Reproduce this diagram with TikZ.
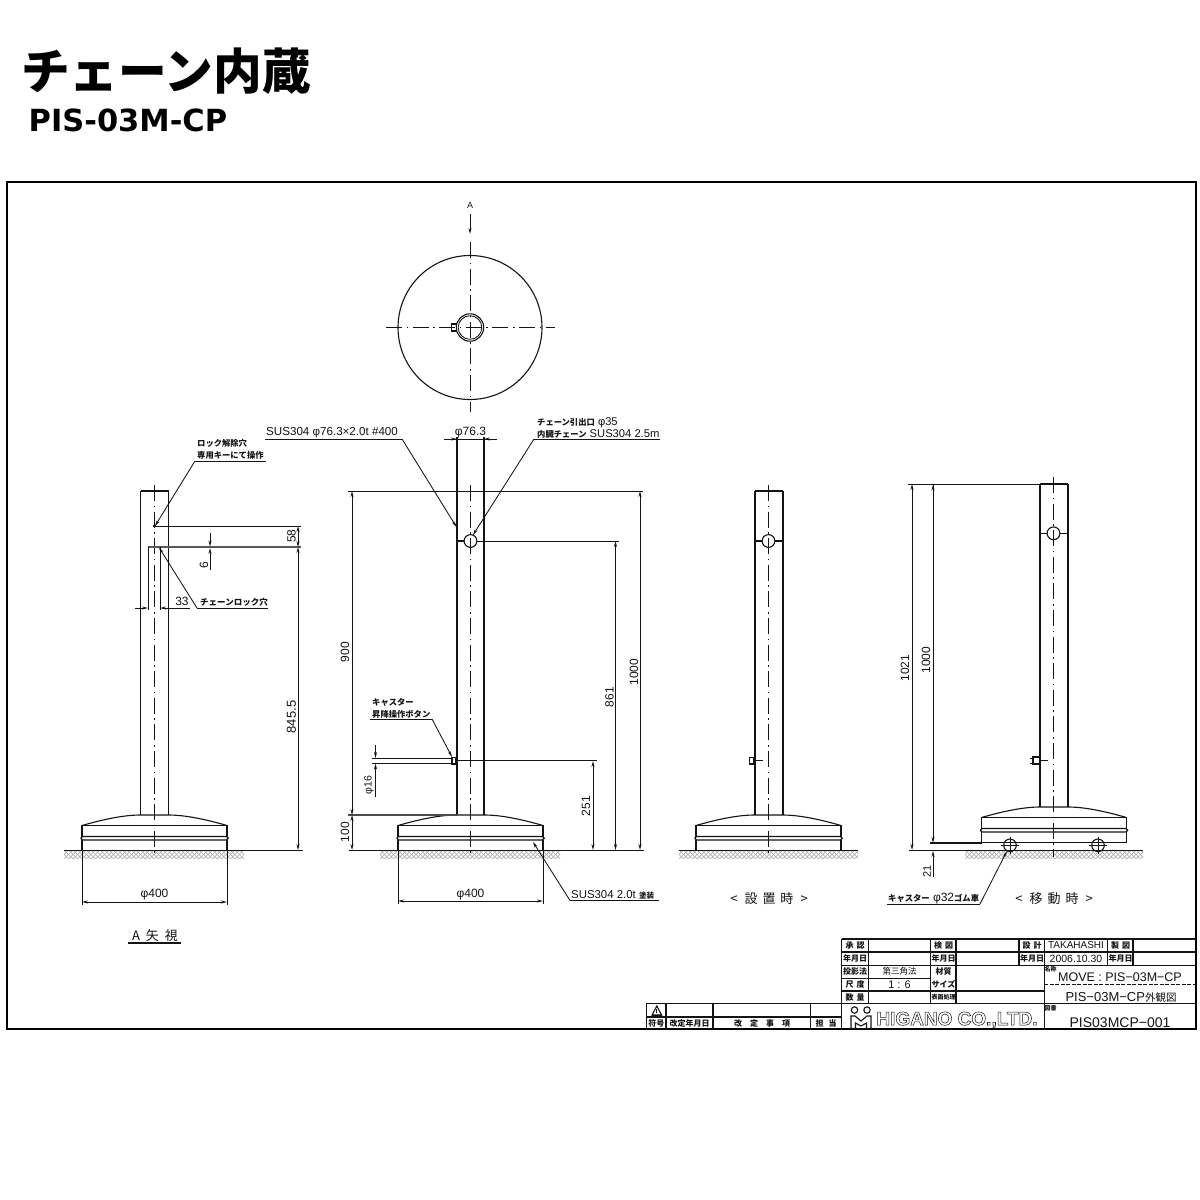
\documentclass[tikz,border=0pt]{standalone}
\usepackage{fontspec}
\setmainfont{Liberation Sans}
\newfontfamily\cjk{Noto Sans CJK JP}
\newfontfamily\dejab{DejaVu Sans}
\usetikzlibrary{arrows.meta}
\definecolor{ink}{gray}{0.08}
\tikzset{
  ln/.style={draw=ink,line width=1.1pt},
  thin ln/.style={draw=ink,line width=0.85pt},
  dimline/.style={draw=ink,line width=0.85pt,{Stealth[length=6pt,width=3pt]}-{Stealth[length=6pt,width=3pt]}},
  arr/.style={draw=ink,line width=0.85pt,-{Stealth[length=6pt,width=3pt]}},
  cl/.style={draw=ink,line width=0.9pt,dash pattern=on 16pt off 4.5pt on 1.6pt off 4.5pt},
  hatchln/.style={draw=black!35,line width=0.4pt},
  txt/.style={inner sep=0pt,text=ink,font=\fontsize{12}{13}\selectfont},
  jp/.style={inner sep=0pt,text=ink,font=\fontsize{8.3}{9}\selectfont\cjk\bfseries},
  lbl/.style={inner sep=0pt,text=ink,font=\fontsize{8}{9}\selectfont\cjk\bfseries},
  big/.style={inner sep=0pt,text=ink,font=\fontsize{13}{14}\selectfont\cjk},
  cell/.style={draw=ink,line width=1.1pt},
}
\newcommand{\sj}[1]{{\cjk\bfseries\fontsize{8.3}{9}\selectfont #1}}
\newcommand{\standbase}[2]{%
  \begin{scope}[shift={(#1,#2)}]
    \draw[ln] (-72.5,10.5) .. controls (-50,4) and (-30,0) .. (-14,0) -- (14,0) .. controls (30,0) and (50,4) .. (72.5,10.5);
    \draw[ln] (-72.5,21.5) -- (-72.5,10.5) -- (72.5,10.5) -- (72.5,21.5);
    \draw[ln,rounded corners=1.7pt] (-73.7,21.5) rectangle (73.7,25);
    \draw[ln] (-72.5,25) -- (-72.5,35.7) -- (72.5,35.7) -- (72.5,25);
  \end{scope}}
\newcommand{\gnd}[4]{% line from, line to, hatch from, hatch to
  \begin{scope}
    \clip (#3,851.2) rectangle (#4,858.5);
    \foreach \d in {0,4.5,...,200} {
      \draw[hatchln] ({#3+\d-9},859) -- ++(9,-9);
      \draw[hatchln] ({#3+\d-9},850) -- ++(9,9);
    }
  \end{scope}
  \draw[ln] (#1,850.5) -- (#2,850.5);}
\newcommand{\hole}[2]{%
  \draw[ln] (#1,#2) circle[radius=6.4pt];
  \draw[ln] ({#1-14},#2) -- ({#1-6.4},#2) ({#1+6.4},#2) -- ({#1+14},#2);}
\begin{document}
\begin{tikzpicture}[x=1pt,y=-1pt]
\useasboundingbox[fill=white] (0,0) rectangle (1200,1200);
% titles
\node[anchor=west,inner sep=0pt,font=\fontsize{48.7}{50}\selectfont\cjk\bfseries] (title) at (21,71) {チェーン内蔵};
\node[anchor=west,inner sep=0pt,font=\fontsize{30.5}{32}\selectfont\dejab\bfseries] (sub) at (28.5,120) {PIS-03M-CP};
% frame
\draw[draw=black,line width=2pt] (7,182) rectangle (1196,1029);

% top view
\draw[ln] (470,327.5) circle[radius=72pt];
\draw[ln] (470,327.5) circle[radius=13.7pt];
\draw[thin ln] (470,327.5) circle[radius=11.8pt];
\draw[ln] (451.5,324) rectangle (456.5,331);
\draw[cl] (386,327.5) -- (555,327.5);
\draw[cl] (470,242) -- (470,412);
\draw[arr] (470,214) -- (470,234);
\node[txt,font=\fontsize{9}{10}\selectfont] (lA) at (470,205) {A};

% ---- view 1: A view
\draw[ln] (140.5,491) -- (168.5,491);
\draw[ln] (140.5,491) -- (140.5,815);
\draw[ln] (168.5,491) -- (168.5,815);
\standbase{154.5}{815}
\gnd{64}{303}{64}{244}
\draw[cl] (154.5,485) -- (154.5,857);
\draw[thin ln] (155,526) -- (301,526);
\draw[draw=black!65,line width=1.5pt] (148,547) -- (301,547);
\draw[thin ln] (148,547) -- (148,610);
\draw[thin ln] (160,547) -- (160,610);
\draw[ln,fill=ink] (154.5,526) circle[radius=1pt];
\draw[arr] (135,608) -- (148,608);
\draw[arr] (190,608) -- (160,608);
\node[txt] (d33) at (182,601.5) {33};
\draw[thin ln] (197,608) -- (268,608);
\draw[arr] (197,608) -- (159,547.5);
\node[jp,anchor=west,font=\fontsize{8.5}{9}\selectfont\cjk\bfseries] (t1) at (200,602) {チェーンロック穴};
\draw[thin ln] (195,461) -- (266,461);
\draw[arr] (195,461) -- (155,526);
\node[jp,anchor=west] (t2) at (197,443) {ロック解除穴};
\node[jp,anchor=west] (t3) at (197,455) {専用キーにて操作};
\draw[dimline] (298,526) -- (298,547);
\draw[dimline] (298,547) -- (298,850);
\node[txt,rotate=90] (d58) at (291.5,536) {58};
\node[txt,rotate=90,font=\fontsize{13}{14}\selectfont] (d8455) at (291.5,717) {845.5};
\draw[arr] (210,533) -- (210,546.5);
\draw[arr] (210,570) -- (210,548);
\node[txt,rotate=90] (d6) at (204,565) {6};
\draw[thin ln] (82,851) -- (82,905);
\draw[thin ln] (227,851) -- (227,905);
\draw[dimline] (82,902) -- (227,902);
\node[txt] (d400a) at (154.5,895) {φ400};
\node[big,anchor=center] (aview) at (155,935.5) {\fontsize{13}{14}\selectfont A\hspace{6pt}矢\hspace{6pt}視};
\draw[ln] (128,943) -- (181,943);

% ---- view 2
\draw[ln] (457,437) -- (457,815);
\draw[ln] (484,437) -- (484,815);
\standbase{470.5}{815}
\gnd{349}{644}{380}{560}
\draw[cl] (470.5,485) -- (470.5,857);
\draw[thin ln] (348,491) -- (643,491);
\draw[draw=black!70,line width=1.4pt] (348,815) -- (457,815);
\draw[ln] (470.5,541) circle[radius=6.4pt];
\draw[ln] (456,541) -- (464,541);
\draw[thin ln] (477,541) -- (619,541);
\draw[thin ln] (444,439) -- (497,439);
\draw[arr] (444,439) -- (457,439);
\draw[arr] (497,439) -- (484,439);
\node[txt] (d763) at (470.5,432.5) {φ76.3};
\draw[thin ln] (265,439) -- (402,439);
\draw[arr] (402,439) -- (456.5,527);
\node[txt,anchor=west,font=\fontsize{11.6}{13}\selectfont] (t4) at (266,433) {SUS304 φ76.3×2.0t \#400};
\draw[thin ln] (534,439) -- (660,439);
\draw[arr] (534,439) -- (473,535);
\node[anchor=west,inner sep=0pt,text=ink,font=\fontsize{11.2}{12}\selectfont] (t5) at (537,423) {\sj{チェーン引出口} φ35};
\node[anchor=west,inner sep=0pt,text=ink,font=\fontsize{11.2}{12}\selectfont] (t6) at (537,434) {\sj{内臓チェーン} SUS304 2.5m};
\draw[dimline] (352,491) -- (352,815);
\draw[dimline] (352,815) -- (352,850);
\draw[dimline] (615.5,541) -- (615.5,850);
\draw[dimline] (640,491) -- (640,850);
\node[txt,rotate=90] (d900) at (345,652) {900};
\node[txt,rotate=90] (d100) at (345,832) {100};
\node[txt,rotate=90] (d861) at (609.5,697) {861};
\node[txt,rotate=90] (d1000) at (634,672) {1000};
% button
\draw[ln] (452,757.5) rectangle (456,764);
\draw[thin ln] (372,758) -- (452,758);
\draw[thin ln] (372,763.5) -- (452,763.5);
\draw[thin ln] (456,760.7) -- (597,760.7);
\draw[arr] (375.5,745) -- (375.5,758);
\draw[arr] (375.5,797) -- (375.5,763.5);
\node[txt,rotate=90,font=\fontsize{10.5}{12}\selectfont] (d16) at (369,785) {φ16};
\draw[dimline] (593,761) -- (593,850);
\node[txt,rotate=90] (d251) at (586,806) {251};
\draw[thin ln] (370,719) -- (432,719);
\draw[arr] (432,719) -- (452,757);
\node[jp,anchor=west] (t7) at (372,702) {キャスター};
\node[jp,anchor=west] (t8) at (372,714) {昇降操作ボタン};
\draw[thin ln] (570,900.5) -- (659,900.5);
\draw[arr] (570,900.5) -- (533,842);
\node[anchor=west,inner sep=0pt,text=ink,font=\fontsize{11.4}{12}\selectfont] (t9) at (571,895) {SUS304 2.0t {\cjk\bfseries\fontsize{7.5}{9}\selectfont 塗装}};
\draw[thin ln] (398,851) -- (398,904);
\draw[thin ln] (543,851) -- (543,904);
\draw[dimline] (398,901) -- (543,901);
\node[txt] (d400b) at (470.5,895) {φ400};

% ---- view 3
\draw[ln] (755,491) -- (783,491);
\draw[ln] (755,491) -- (755,815);
\draw[ln] (783,491) -- (783,815);
\standbase{768.5}{815}
\gnd{679}{858}{679}{858}
\draw[cl] (768.5,485) -- (768.5,857);
\hole{768.5}{541}
\draw[ln] (749.5,757.5) rectangle (755,764);
\draw[thin ln] (753,757.5) -- (753,764);
\draw[thin ln] (755,760.7) -- (763,760.7);
\node[big,anchor=center] (t10) at (769,899) {<\hspace{7pt}設\hspace{5pt}置\hspace{5pt}時\hspace{7pt}>};

% ---- view 4
\draw[ln] (1040,484) -- (1068,484);
\draw[ln] (1040,484) -- (1040,807);
\draw[ln] (1068,484) -- (1068,807);
\draw[thin ln] (908,484) -- (1040,484);
\standbase{1054}{807}
\gnd{909}{1143}{965}{1143}
\draw[cl] (1053.5,477) -- (1053.5,857);
\hole{1053.5}{533.3}
\draw[ln] (1033,757) rectangle (1040,764);
\draw[thin ln] (1030,758) -- (1033,758);
\draw[thin ln] (1030,763) -- (1033,763);
\draw[thin ln] (1040,760.7) -- (1048,760.7);
\draw[ln] (930,843) -- (982,843);
\draw[ln] (1010,845.3) circle[radius=6.3pt];
\draw[ln] (1098,845.3) circle[radius=6.3pt];
\draw[thin ln] (1010,837) -- (1010,854) (1001,845.3) -- (1019,845.3);
\draw[thin ln] (1098,837) -- (1098,854) (1089,845.3) -- (1107,845.3);
\draw[dimline] (912,484) -- (912,850);
\draw[thin ln] (933,484) -- (933,835);
\draw[arr] (933,491) -- (933,484.5);
\draw[arr] (933,835) -- (933,843);
\draw[arr] (933,877) -- (933,850.8);
\node[txt,rotate=90] (d1021) at (905,668) {1021};
\node[txt,rotate=90] (d1000b) at (926,660) {1000};
\node[txt,rotate=90,font=\fontsize{11}{12}\selectfont] (d21) at (927,871) {21};
\draw[thin ln] (887,904) -- (980,904);
\draw[arr] (980,904) -- (1007,851);
\node[anchor=west,inner sep=0pt,text=ink,font=\fontsize{12}{13}\selectfont] (t11) at (888,898.5) {\sj{キャスター} φ32\sj{ゴム車}};
\node[big,anchor=center] (t12) at (1054,899) {<\hspace{7pt}移\hspace{5pt}動\hspace{5pt}時\hspace{7pt}>};

% ---- title block
\draw[cell] (841.7,939) -- (1196,939);
\draw[cell] (841.7,952) -- (1196,952);
\draw[cell] (841.7,965.5) -- (1196,965.5);
\draw[cell] (841.7,978.5) -- (930.7,978.5);
\draw[cell] (841.7,991) -- (1044.3,991);
\draw[cell] (646.7,1003.3) -- (1196,1003.3);
\draw[cell] (646.7,1017) -- (841.7,1017);
\draw[cell] (841.7,939) -- (841.7,1029);
\draw[cell] (868.3,939) -- (868.3,1003.3);
\draw[cell] (930.7,939) -- (930.7,1003.3);
\draw[cell] (956,939) -- (956,1003.3);
\draw[cell] (1019,939) -- (1019,965.5);
\draw[cell] (1044.3,939) -- (1044.3,1029);
\draw[cell] (1107.7,939) -- (1107.7,965.5);
\draw[cell] (1133,939) -- (1133,965.5);
\draw[cell] (646.7,1003.3) -- (646.7,1029);
\draw[cell] (666,1003.3) -- (666,1029);
\draw[cell] (713,1003.3) -- (713,1029);
\draw[cell] (810.7,1003.3) -- (810.7,1029);
\draw[draw=ink,line width=0.8pt,dash pattern=on 4pt off 1.5pt] (1044.3,984.5) -- (1196,984.5);

\node[lbl] (a1) at (855,945.5) {承\hspace{3pt}認};
\node[lbl] (a2) at (855,958.5) {年月日};
\node[lbl] (a3) at (855,971.5) {投影法};
\node[lbl] (a4) at (855,984.5) {尺\hspace{3pt}度};
\node[lbl] (a5) at (855,997) {数\hspace{3pt}量};
\node[lbl] (b1) at (943.5,945.5) {検\hspace{3pt}図};
\node[lbl] (b2) at (943.5,958.5) {年月日};
\node[lbl] (b3) at (943.5,971) {材質};
\node[lbl] (b4) at (943.5,984.5) {サイズ};
\node[lbl,font=\fontsize{6}{7}\selectfont\cjk\bfseries] (b5) at (943.5,997) {表面処理};
\node[lbl] (c1) at (1032,945.5) {設\hspace{3pt}計};
\node[lbl] (c2) at (1032,958.5) {年月日};
\node[lbl] (d1) at (1120.5,945.5) {製\hspace{3pt}図};
\node[lbl] (d2) at (1120.5,958.5) {年月日};
\node[txt,font=\fontsize{10}{11}\selectfont] (e1) at (1076,945.5) {TAKAHASHI};
\node[txt,font=\fontsize{10.5}{11}\selectfont] (e2) at (1076,958.5) {2006.10.30};
\node[lbl,font=\fontsize{8.5}{9}\selectfont\cjk] (f1) at (899.5,971.5) {第三角法};
\node[txt,font=\fontsize{11}{12}\selectfont] (f2) at (899.5,984.5) {1 : 6};
\node[lbl,font=\fontsize{6}{7}\selectfont\cjk\bfseries] (g1) at (1050.5,969.5) {名称};
\node[lbl,font=\fontsize{6}{7}\selectfont\cjk\bfseries] (g2) at (1050.5,1008.5) {図番};
\node[txt,font=\fontsize{12.5}{13}\selectfont] (g3) at (1120,977.5) {MOVE : PIS−03M−CP};
\node[txt,font=\fontsize{13}{14}\selectfont] (g4) at (1121,997.5) {PIS−03M−CP{\cjk\fontsize{10.5}{11}\selectfont 外観図}};
\node[txt,font=\fontsize{14}{15}\selectfont] (g5) at (1120,1022.5) {PIS03MCP−001};
\node[lbl] (h1) at (656.3,1023) {符号};
\node[lbl] (h2) at (689.5,1023) {改定年月日};
\node[lbl] (h3) at (762,1023) {改\hspace{8pt}定\hspace{8pt}事\hspace{8pt}項};
\node[lbl] (h4) at (826,1023) {担\hspace{5pt}当};
% warning triangle
\draw[ln,line join=miter] (652,1015) -- (656.8,1006) -- (661.6,1015) -- cycle;
\draw[thin ln] (656.8,1009) -- (656.8,1012.5);
\draw[draw=ink,line width=0.8pt] (652,1015.5) -- (662,1015.5);
% logo
\draw[ln] (854.5,1010) circle[radius=3.2pt];
\draw[ln] (867,1010) circle[radius=3.2pt];
\draw[ln,line join=miter] (851,1028.5) -- (851,1016) -- (855,1016) -- (861,1021) -- (867,1016) -- (871,1016) -- (871,1028.5) -- (866.5,1028.5) -- (866.5,1023) -- (861,1026) -- (855.5,1023) -- (855.5,1028.5) -- cycle;
\node[inner sep=0pt,text=ink,font=\fontsize{19}{20}\selectfont\bfseries] (logo) at (957,1020) {\special{pdf:code 1 Tr 0.5 w}HIGANO CO.,LTD.\special{pdf:code 0 Tr}};
\end{tikzpicture}
\end{document}
